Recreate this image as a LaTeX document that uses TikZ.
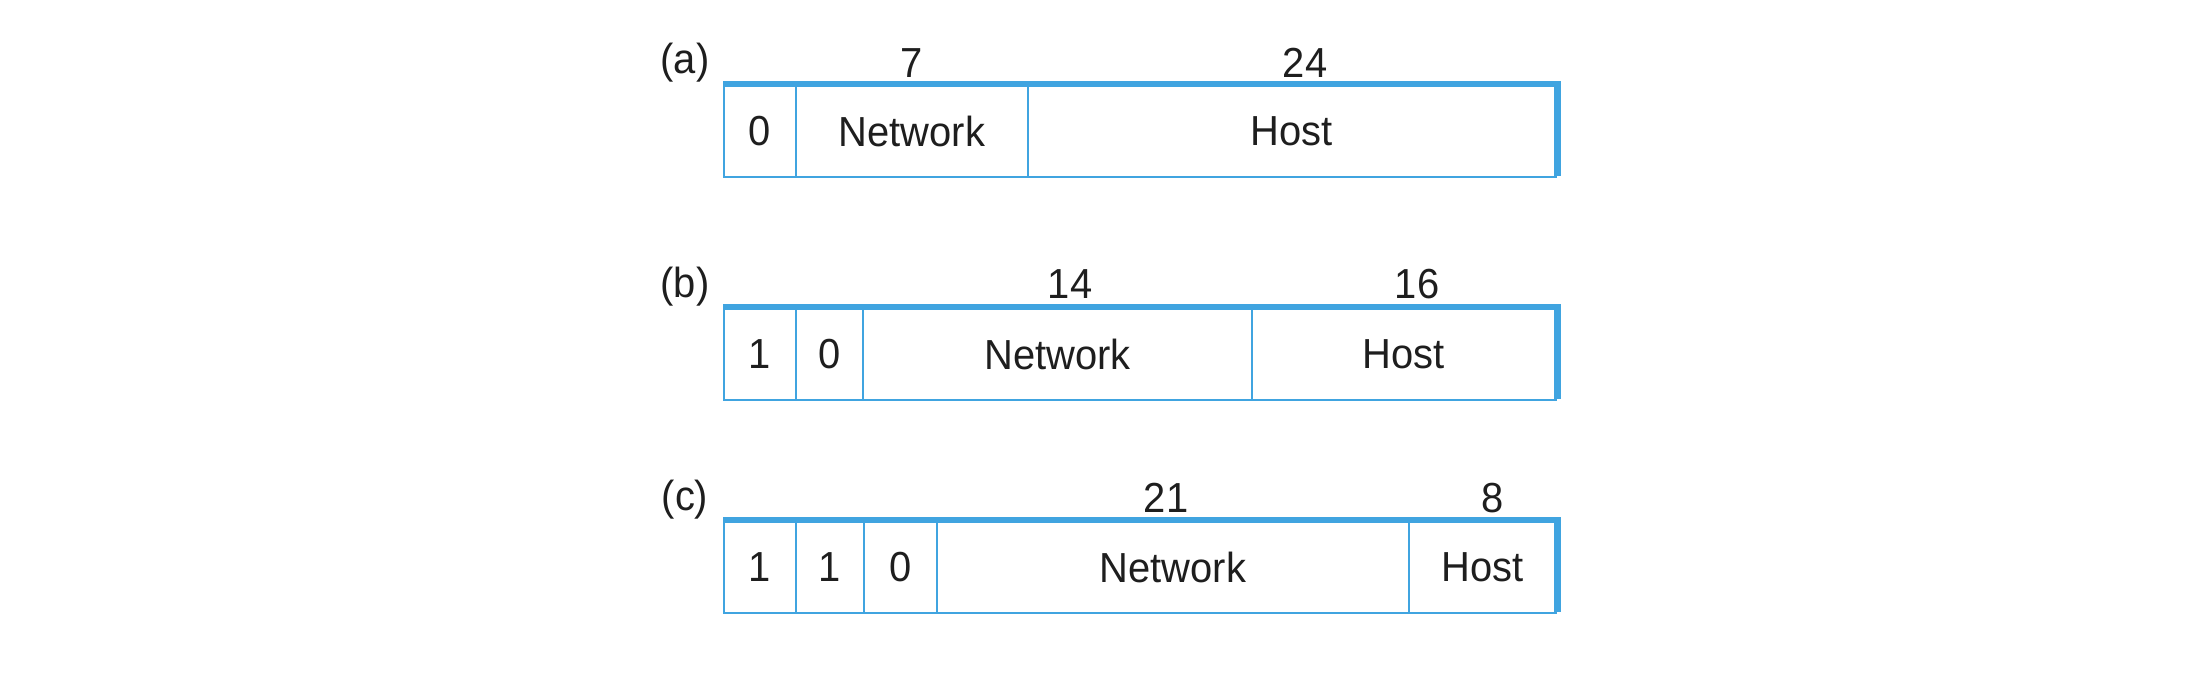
\documentclass[tikz,border=0pt]{standalone}
\usepackage{fontspec}
\setmainfont{Liberation Sans}[FakeStretch=0.95]
\definecolor{fieldblue}{RGB}{64,164,224}
\definecolor{ink}{RGB}{30,30,30}
\begin{document}
\begin{tikzpicture}[x=0.5pt,y=-0.5pt,
  cell/.style={draw=fieldblue, line width=1.25pt, inner sep=0pt, text=ink,
    font=\fontsize{21}{25}\selectfont},
  lbl/.style={text=ink, inner sep=0pt, font=\fontsize{21}{25}\selectfont},
  band/.style={fill=fieldblue, draw=none}]
\useasboundingbox (0,0) rectangle (2196,696);
% helper: cell from x1 to x2, y1 to y2
\newcommand{\fieldcell}[6]{%
  \node[cell, minimum width={(#3-#2)*0.5pt}, minimum height={(#5-#4)*0.5pt}]
    (#1) at ({(#2+#3)/2},{(#4+#5)/2}) {\raisebox{-1pt}{#6}};}
% ---------- (a)
\fieldcell{a1}{724}{796}{85}{177}{0}
\fieldcell{a2}{796}{1028}{85}{177}{Network}
\fieldcell{a3}{1028}{1556}{85}{177}{Host}
\fill[band] (a1.north west) ++(0,-3) rectangle ([shift={(4,3)}]a3.north east);
\fill[band] ([shift={(-3,-3)}]a3.north east) rectangle ([shift={(4,-2)}]a3.south east);
\node[lbl] (la) at (685,63) {(a)};
\node[lbl] (na2) at (912,63) {7};
\node[lbl] (na3) at (1305,63) {24};
% ---------- (b)
\fieldcell{b1}{724}{796}{308}{400}{1}
\fieldcell{b2}{796}{863}{308}{400}{0}
\fieldcell{b3}{863}{1252}{308}{400}{Network}
\fieldcell{b4}{1252}{1556}{308}{400}{Host}
\fill[band] (b1.north west) ++(0,-3) rectangle ([shift={(4,3)}]b4.north east);
\fill[band] ([shift={(-3,-3)}]b4.north east) rectangle ([shift={(4,-2)}]b4.south east);
\node[lbl] (lb) at (685,287) {(b)};
\node[lbl] (nb3) at (1070,284) {14};
\node[lbl] (nb4) at (1417,284) {16};
% ---------- (c)
\fieldcell{c1}{724}{796}{521}{613}{1}
\fieldcell{c2}{796}{864}{521}{613}{1}
\fieldcell{c3}{864}{937}{521}{613}{0}
\fieldcell{c4}{937}{1409}{521}{613}{Network}
\fieldcell{c5}{1409}{1556}{521}{613}{Host}
\fill[band] (c1.north west) ++(0,-3) rectangle ([shift={(4,3)}]c5.north east);
\fill[band] ([shift={(-3,-3)}]c5.north east) rectangle ([shift={(4,-2)}]c5.south east);
\node[lbl] (lc) at (685,500) {(c)};
\node[lbl] (nc4) at (1166,498) {21};
\node[lbl] (nc5) at (1493,498) {8};
\end{tikzpicture}
\end{document}
